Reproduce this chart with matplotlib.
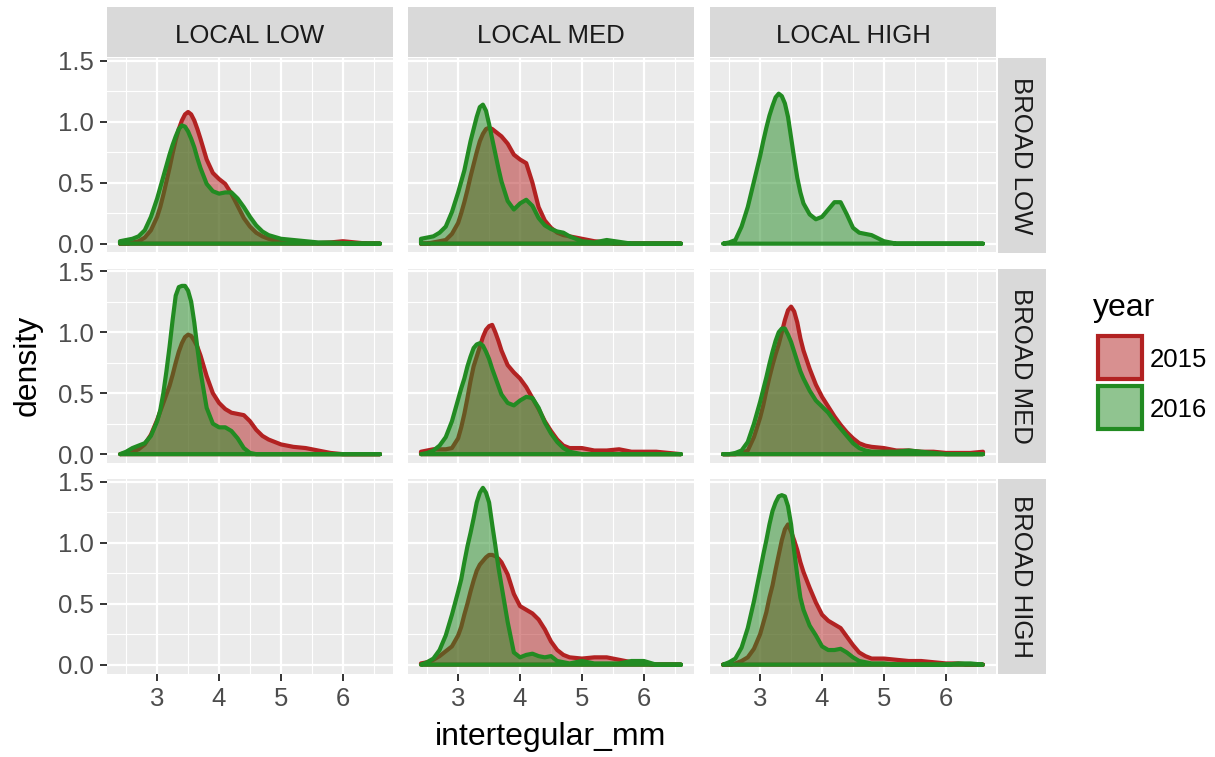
import matplotlib.pyplot as plt
from matplotlib.colors import to_rgba
from matplotlib.patches import Rectangle
from matplotlib.ticker import FormatStrFormatter

plt.rcParams['font.family'] = ['Liberation Sans', 'DejaVu Sans']

# evaluation grid of the density curves (mm)
x_mm = [2.4, 2.5, 2.6, 2.7, 2.8, 2.9,
        3.0, 3.05, 3.1, 3.15, 3.2, 3.25, 3.3, 3.35, 3.4, 3.45, 3.5, 3.55, 3.6, 3.65, 3.7,
        3.8, 3.9, 4.0, 4.1, 4.2, 4.3, 4.4, 4.5, 4.6, 4.7, 4.8,
        5.0, 5.2, 5.4, 5.6, 5.8, 6.0, 6.2, 6.4, 6.6]

local_levels = ["LOCAL LOW", "LOCAL MED", "LOCAL HIGH"]
broad_levels = ["BROAD LOW", "BROAD MED", "BROAD HIGH"]
years = ["2015", "2016"]
year_colors = ["#B22222", "#228B22"]

# --- 2015 ---
d15_blow_llow = [0.0, 0.0, 0.01, 0.02, 0.05, 0.11,
                 0.22, 0.30, 0.40, 0.51, 0.62, 0.74, 0.85, 0.94, 1.01, 1.06, 1.08, 1.06, 1.01, 0.94, 0.86,
                 0.69, 0.58, 0.53, 0.49, 0.41, 0.31, 0.21, 0.14, 0.09, 0.06, 0.04,
                 0.02, 0.01, 0.01, 0.005, 0.01, 0.02, 0.01, 0.0, 0.0]
d15_blow_lmed = [0.0, 0.0, 0.01, 0.02, 0.03, 0.08,
                 0.17, 0.25, 0.34, 0.44, 0.55, 0.65, 0.75, 0.84, 0.90, 0.94, 0.95, 0.94, 0.92, 0.90, 0.88,
                 0.82, 0.73, 0.69, 0.66, 0.50, 0.30, 0.19, 0.13, 0.09, 0.07, 0.06,
                 0.04, 0.02, 0.01, 0.0, 0.0, 0.0, 0.0, 0.0, 0.0]
d15_bmed_llow = [0.0, 0.01, 0.02, 0.04, 0.08, 0.16,
                 0.28, 0.35, 0.42, 0.49, 0.56, 0.65, 0.75, 0.84, 0.91, 0.96, 0.98, 0.97, 0.93, 0.88, 0.81,
                 0.64, 0.50, 0.42, 0.37, 0.34, 0.33, 0.32, 0.27, 0.20, 0.15, 0.12,
                 0.08, 0.06, 0.05, 0.03, 0.01, 0.0, 0.0, 0.0, 0.0]
d15_bmed_lmed = [0.02, 0.03, 0.04, 0.04, 0.04, 0.05,
                 0.13, 0.22, 0.33, 0.46, 0.60, 0.72, 0.80, 0.88, 0.96, 1.02, 1.05, 1.06, 1.00, 0.93, 0.85,
                 0.73, 0.67, 0.62, 0.55, 0.46, 0.37, 0.27, 0.19, 0.12, 0.07, 0.05,
                 0.05, 0.03, 0.03, 0.04, 0.02, 0.02, 0.02, 0.01, 0.0]
d15_bmed_lhigh = [0.0, 0.0, 0.0, 0.01, 0.03, 0.14,
                  0.30, 0.40, 0.52, 0.63, 0.73, 0.82, 0.90, 1.00, 1.10, 1.18, 1.21, 1.17, 1.08, 0.95, 0.85,
                  0.70, 0.57, 0.47, 0.39, 0.31, 0.24, 0.18, 0.13, 0.09, 0.07, 0.06,
                  0.05, 0.03, 0.03, 0.02, 0.02, 0.01, 0.01, 0.01, 0.02]
d15_bhigh_lmed = [0.01, 0.02, 0.04, 0.07, 0.11, 0.15,
                  0.24, 0.31, 0.41, 0.50, 0.60, 0.69, 0.77, 0.82, 0.85, 0.88, 0.90, 0.90, 0.89, 0.87, 0.84,
                  0.74, 0.58, 0.48, 0.45, 0.42, 0.37, 0.29, 0.19, 0.12, 0.08, 0.06,
                  0.05, 0.06, 0.06, 0.04, 0.02, 0.01, 0.0, 0.0, 0.0]
d15_bhigh_lhigh = [0.0, 0.0, 0.01, 0.03, 0.06, 0.13,
                   0.25, 0.34, 0.43, 0.55, 0.65, 0.78, 0.90, 1.02, 1.11, 1.15, 1.09, 1.02, 0.94, 0.84, 0.76,
                   0.63, 0.51, 0.41, 0.36, 0.33, 0.30, 0.23, 0.16, 0.10, 0.07, 0.05,
                   0.05, 0.04, 0.03, 0.03, 0.02, 0.01, 0.01, 0.0, 0.0]

# --- 2016 ---
d16_blow_llow = [0.02, 0.03, 0.04, 0.06, 0.11, 0.22,
                 0.37, 0.46, 0.55, 0.64, 0.73, 0.81, 0.88, 0.94, 0.97, 0.96, 0.92, 0.86, 0.79, 0.70, 0.62,
                 0.49, 0.43, 0.41, 0.42, 0.42, 0.37, 0.30, 0.22, 0.15, 0.10, 0.07,
                 0.04, 0.03, 0.02, 0.01, 0.01, 0.005, 0.0, 0.0, 0.0]
d16_blow_lmed = [0.04, 0.05, 0.06, 0.09, 0.14, 0.26,
                 0.42, 0.51, 0.60, 0.72, 0.84, 0.94, 1.04, 1.12, 1.14, 1.09, 0.98, 0.86, 0.74, 0.62, 0.51,
                 0.35, 0.28, 0.33, 0.36, 0.31, 0.21, 0.15, 0.12, 0.10, 0.09, 0.06,
                 0.02, 0.01, 0.03, 0.015, 0.0, 0.0, 0.0, 0.0, 0.0]
d16_blow_lhigh = [0.0, 0.01, 0.03, 0.14, 0.30, 0.51,
                  0.72, 0.84, 0.95, 1.05, 1.13, 1.20, 1.23, 1.21, 1.15, 1.04, 0.87, 0.70, 0.54, 0.42, 0.33,
                  0.24, 0.20, 0.22, 0.28, 0.34, 0.34, 0.24, 0.13, 0.09, 0.08, 0.07,
                  0.02, 0.0, 0.0, 0.0, 0.0, 0.0, 0.0, 0.0, 0.0]
d16_bmed_llow = [0.0, 0.02, 0.05, 0.07, 0.09, 0.15,
                 0.27, 0.36, 0.50, 0.68, 0.88, 1.10, 1.30, 1.37, 1.38, 1.38, 1.34, 1.25, 1.08, 0.87, 0.68,
                 0.38, 0.25, 0.22, 0.22, 0.19, 0.13, 0.05, 0.01, 0.0, 0.0, 0.0,
                 0.0, 0.0, 0.0, 0.0, 0.0, 0.0, 0.0, 0.0, 0.0]
d16_bmed_lmed = [0.0, 0.01, 0.03, 0.07, 0.14, 0.27,
                 0.45, 0.54, 0.62, 0.72, 0.80, 0.87, 0.90, 0.91, 0.89, 0.84, 0.78, 0.70, 0.63, 0.56, 0.49,
                 0.42, 0.40, 0.44, 0.47, 0.46, 0.38, 0.26, 0.17, 0.10, 0.05, 0.02,
                 0.0, 0.0, 0.0, 0.0, 0.0, 0.0, 0.0, 0.0, 0.0]
d16_bmed_lhigh = [0.0, 0.0, 0.01, 0.03, 0.10, 0.25,
                  0.43, 0.53, 0.63, 0.74, 0.84, 0.93, 1.00, 1.03, 1.03, 0.98, 0.92, 0.84, 0.76, 0.68, 0.62,
                  0.52, 0.44, 0.39, 0.34, 0.27, 0.21, 0.15, 0.09, 0.05, 0.03, 0.02,
                  0.02, 0.02, 0.03, 0.02, 0.01, 0.0, 0.0, 0.0, 0.0]
d16_bhigh_lmed = [0.0, 0.02, 0.05, 0.12, 0.24, 0.41,
                  0.60, 0.70, 0.84, 0.97, 1.08, 1.20, 1.33, 1.41, 1.45, 1.41, 1.33, 1.15, 0.98, 0.80, 0.65,
                  0.35, 0.10, 0.06, 0.08, 0.09, 0.07, 0.06, 0.07, 0.03, 0.02, 0.01,
                  0.03, 0.01, 0.01, 0.01, 0.03, 0.03, 0.0, 0.0, 0.0]
d16_bhigh_lhigh = [0.0, 0.02, 0.05, 0.14, 0.30, 0.52,
                   0.77, 0.90, 1.02, 1.15, 1.26, 1.33, 1.38, 1.39, 1.38, 1.30, 1.15, 0.93, 0.73, 0.55, 0.45,
                   0.32, 0.24, 0.15, 0.12, 0.12, 0.13, 0.10, 0.06, 0.03, 0.02, 0.01,
                   0.01, 0.0, 0.0, 0.0, 0.0, 0.0, 0.01, 0.01, 0.0]

# (broad, local) -> {year: densities}; missing combos had no bees that year
panels = {
    ("BROAD LOW", "LOCAL LOW"): {"2015": d15_blow_llow, "2016": d16_blow_llow},
    ("BROAD LOW", "LOCAL MED"): {"2015": d15_blow_lmed, "2016": d16_blow_lmed},
    ("BROAD LOW", "LOCAL HIGH"): {"2016": d16_blow_lhigh},
    ("BROAD MED", "LOCAL LOW"): {"2015": d15_bmed_llow, "2016": d16_bmed_llow},
    ("BROAD MED", "LOCAL MED"): {"2015": d15_bmed_lmed, "2016": d16_bmed_lmed},
    ("BROAD MED", "LOCAL HIGH"): {"2015": d15_bmed_lhigh, "2016": d16_bmed_lhigh},
    ("BROAD HIGH", "LOCAL MED"): {"2015": d15_bhigh_lmed, "2016": d16_bhigh_lmed},
    ("BROAD HIGH", "LOCAL HIGH"): {"2015": d15_bhigh_lhigh, "2016": d16_bhigh_lhigh},
}

W, H = 1215, 757
fig = plt.figure(figsize=(W / 100, H / 100), dpi=100)

# layout in pixels
col_left = [107, 408, 710]
row_top = [58, 268.5, 479]
pw, ph = 286, 194.5
strip_bg = "#D9D9D9"
line_w = 3.0
small_fs = 18.5
title_fs = 23


def px_axes(left, top, width, height):
    return fig.add_axes([left / W, 1 - (top + height) / H, width / W, height / H])


def draw_density(ax, x, y, color):
    xs = [x[0]] + list(x) + [x[-1]]
    ys = [0.0] + list(y) + [0.0]
    ax.fill(xs, ys, facecolor=to_rgba(color, 0.5), edgecolor=color,
            linewidth=line_w, joinstyle='round', zorder=3)


for r, broad in enumerate(broad_levels):
    for c, local in enumerate(local_levels):
        ax = px_axes(col_left[c], row_top[r], pw, ph)
        ax.set_facecolor("#EBEBEB")
        for s in ax.spines.values():
            s.set_visible(False)
        ax.set_xlim(2.19, 6.81)
        ax.set_ylim(-0.0725, 1.5225)
        ax.set_xticks([3, 4, 5, 6])
        ax.set_xticks([2.5, 3.5, 4.5, 5.5, 6.5], minor=True)
        ax.set_yticks([0, 0.5, 1.0, 1.5])
        ax.set_yticks([0.25, 0.75, 1.25], minor=True)
        ax.yaxis.set_major_formatter(FormatStrFormatter('%.1f'))
        ax.grid(which='major', color='white', linewidth=1.6)
        ax.grid(which='minor', color='white', linewidth=0.8)
        ax.set_axisbelow(True)
        ax.tick_params(which='major', length=5, width=1.4, color='#333333',
                       labelsize=small_fs, labelcolor='#4D4D4D', pad=4.5)
        ax.tick_params(which='minor', length=0)
        if c != 0:
            ax.tick_params(axis='y', left=False, labelleft=False)
        if r != 2:
            ax.tick_params(axis='x', bottom=False, labelbottom=False)

        groups = panels.get((broad, local), {})
        for yr, col in zip(years, year_colors):
            if yr in groups:
                draw_density(ax, x_mm, groups[yr], col)

# overlay in pixel coordinates for strips, titles and legend
ov = fig.add_axes([0, 0, 1, 1])
ov.set_xlim(0, W)
ov.set_ylim(H, 0)
ov.axis('off')

for c, local in enumerate(local_levels):
    ov.add_patch(Rectangle((col_left[c], 7), pw, 50, facecolor=strip_bg, edgecolor='none'))
    ov.text(col_left[c] + pw / 2, 43, local, ha='center', va='baseline',
            fontsize=small_fs, color='#1A1A1A')

for r, broad in enumerate(broad_levels):
    ov.add_patch(Rectangle((998, row_top[r]), 48, ph, facecolor=strip_bg, edgecolor='none'))
    ov.text(1021, row_top[r] + ph / 2, broad, ha='center', va='center',
            rotation=-90, fontsize=small_fs, color='#1A1A1A')

ov.text(28, 365, "density", ha='center', va='center', rotation=90, fontsize=title_fs, color='black')
ov.text(551, 745, "intertegular_mm", ha='center', va='baseline', fontsize=title_fs, color='black')

# legend
ov.text(1093, 316, "year", ha='left', va='baseline', fontsize=title_fs, color='black')
for i, (yr, col) in enumerate(zip(years, year_colors)):
    top = 336 + i * 50
    ov.add_patch(Rectangle((1098, top), 44, 43, facecolor=to_rgba(col, 0.5),
                           edgecolor=col, linewidth=line_w))
    ov.text(1150, top + 31, yr, ha='left', va='baseline', fontsize=small_fs, color='black')

fig.savefig("out.png", dpi=100)
